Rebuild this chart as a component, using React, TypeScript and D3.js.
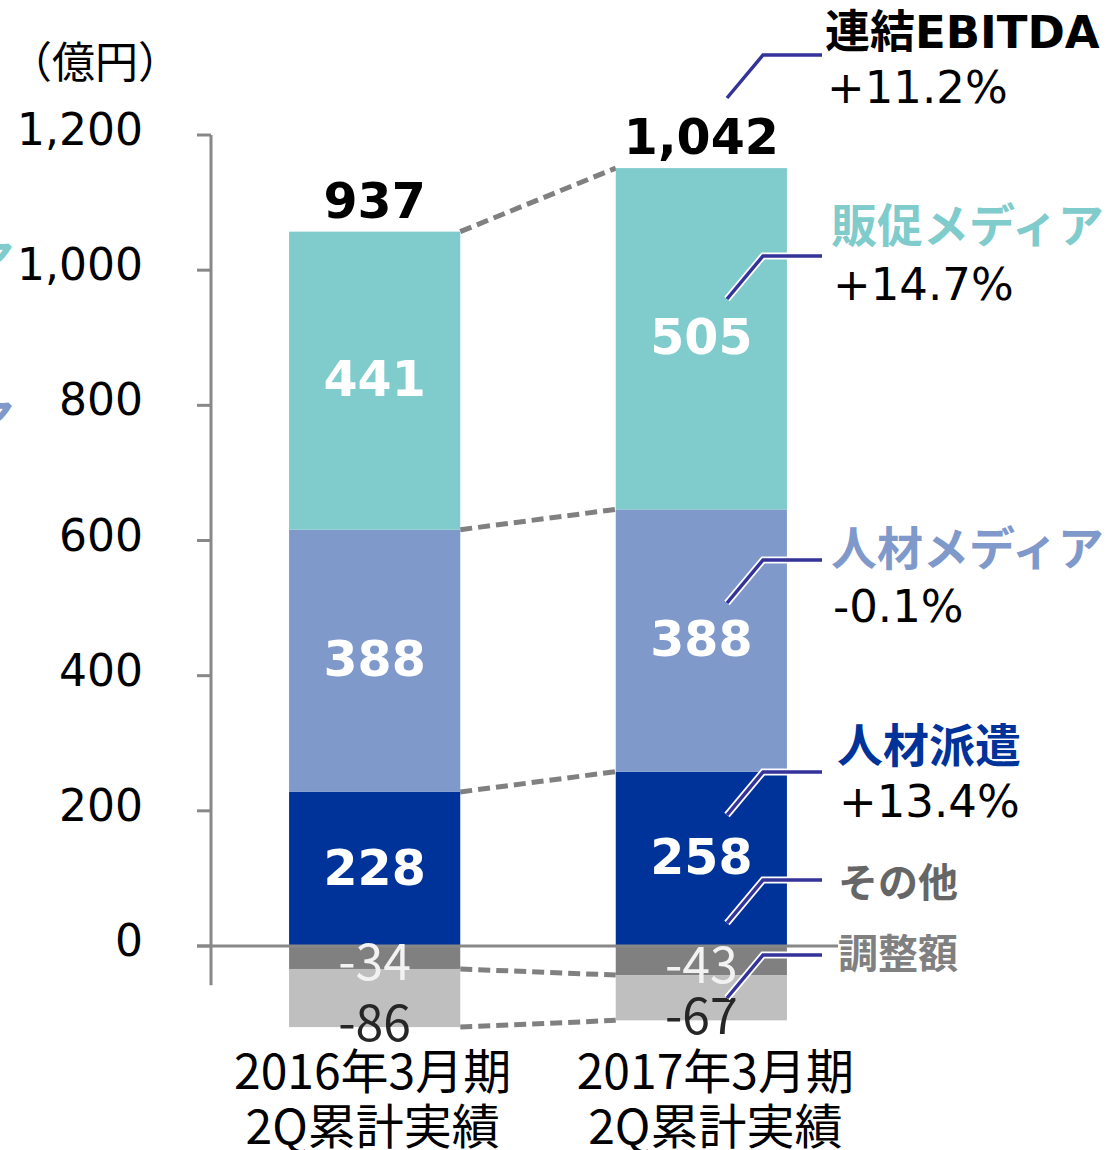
import * as d3 from "d3";

// 期間ラベル
const periodLine1 = ["2016年3月期", "2017年3月期"];
const periodLine2 = ["2Q累計実績", "2Q累計実績"];

// 正のセグメント（下から積み上げ）
const haken = [228, 258];
const jinzaiMedia = [388, 388];
const hansokuMedia = [441, 505];
// 負のセグメント（0 から下へ）
const sonota = [-34, -43];
const chosei = [-86, -67];
const totals = [937, 1042];

const yTicks = [0, 200, 400, 600, 800, 1000, 1200];

// 右側の注記
const calloutNames = ["連結EBITDA", "販促メディア", "人材メディア", "人材派遣", "その他", "調整額"];
const calloutGrowth = ["+11.2%", "+14.7%", "-0.1%", "+13.4%", "", ""];

const COLORS = {
  haken: "#003399",
  jinzai: "#7F99CB",
  hansoku: "#80CBCB",
  sonota: "#808080",
  chosei: "#BFBFBF",
  axis: "#888888",
  callout: "#33339A",
};
const nameColors = ["#000000", COLORS.hansoku, COLORS.jinzai, COLORS.haken, "#666666", "#808080"];
const nameSizes = [45, 46, 46, 46, 40, 40];
// 注記のレイアウト（px）
const lineY = [55, 256, 560, 772, 880, 955];
const nameY = [48, 242, 565, 762, 897, 968];
const growthY = [103, 300, 622, 817, 0, 0];
const nameX = [825, 831, 831, 837, 838, 838];
// 期間ラベルの横ずれ（px）
const periodShift = [-2, 14];

const FONT = "'DejaVu Sans', 'Noto Sans CJK JP', sans-serif";
const CJK = "'Noto Sans CJK JP', 'DejaVu Sans', sans-serif";

const width = 1112;
const height = 1150;

export default function App() {
  const x = d3
    .scaleBand<number>()
    .domain([0, 1])
    .range([211, 865])
    .paddingInner(0.476)
    .paddingOuter(0.239);
  const y = d3.scaleLinear().domain([0, 1200]).range([946, 135]);
  const bw = x.bandwidth();

  const rows = [0, 1].map((i) => {
    const pos = [
      { key: "haken", v: haken[i], color: COLORS.haken },
      { key: "jinzai", v: jinzaiMedia[i], color: COLORS.jinzai },
      { key: "hansoku", v: hansokuMedia[i], color: COLORS.hansoku },
    ];
    let c = 0;
    const posSegs = pos.map((s) => {
      const seg = { ...s, y0: c, y1: c + s.v };
      c += s.v;
      return seg;
    });
    const s0 = { key: "sonota", v: sonota[i], color: COLORS.sonota, y0: 0, y1: sonota[i] };
    const s1 = {
      key: "chosei",
      v: chosei[i],
      color: COLORS.chosei,
      y0: sonota[i],
      y1: sonota[i] + chosei[i],
    };
    return { i, posSegs, negSegs: [s0, s1], top: c };
  });

  // 破線でつなぐ累積値
  const joinLevels = (r: typeof rows[number]) => [
    r.top,
    r.posSegs[1].y1,
    r.posSegs[0].y1,
    r.negSegs[0].y1,
    r.negSegs[1].y1,
  ];
  const l0 = joinLevels(rows[0]);
  const l1 = joinLevels(rows[1]);
  const xr = (x(0) ?? 0) + bw;
  const xl = x(1) ?? 0;

  const fmt = d3.format(",");

  return (
    <svg
      width={width}
      height={height}
      viewBox={`0 0 ${width} ${height}`}
      style={{ position: "absolute", left: 0, top: 0, background: "#fff" }}
    >
      {/* 左端に切れている前スライドのラベル */}
      <text x={14} y={278} textAnchor="end" fontFamily={CJK} fontWeight={700} fontSize={46} fill={COLORS.hansoku}>
        販促メディア
      </text>
      <text x={14} y={437} textAnchor="end" fontFamily={CJK} fontWeight={700} fontSize={46} fill={COLORS.jinzai}>
        人材メディア
      </text>

      {/* 単位 */}
      <text x={95} y={78} textAnchor="middle" fontFamily={CJK} fontSize={43} fill="#000">
        （億円）
      </text>

      {/* y 軸 */}
      <line x1={211} x2={211} y1={y(1200)} y2={y(-58)} stroke={COLORS.axis} strokeWidth={3} />
      {yTicks.map((t) => (
        <g key={t}>
          <line x1={197} x2={211} y1={y(t)} y2={y(t)} stroke={COLORS.axis} strokeWidth={3} />
          <text x={143} y={y(t) + 10} textAnchor="end" fontFamily={FONT} fontSize={44} fill="#000">
            {fmt(t)}
          </text>
        </g>
      ))}

      {/* 破線の接続 */}
      {l0.map((v, k) => (
        <line
          key={k}
          x1={xr}
          y1={y(v)}
          x2={xl}
          y2={y(l1[k])}
          stroke="#808080"
          strokeWidth={5}
          strokeDasharray="12 6"
        />
      ))}

      {/* 棒 */}
      {rows.map((r) => (
        <g key={r.i}>
          {[...r.posSegs, ...r.negSegs].map((s) => (
            <rect
              key={s.key}
              x={x(r.i)}
              width={bw}
              y={y(Math.max(s.y0, s.y1))}
              height={Math.abs(y(s.y0) - y(s.y1))}
              fill={s.color}
            />
          ))}
        </g>
      ))}

      {/* 0 の線 */}
      <line x1={197} x2={838} y1={y(0)} y2={y(0)} stroke={COLORS.axis} strokeWidth={3} />

      {/* 値ラベル */}
      {rows.map((r) => {
        const cx = (x(r.i) ?? 0) + bw / 2;
        return (
          <g key={r.i}>
            {r.posSegs.map((s) => (
              <text
                key={s.key}
                x={cx}
                y={y((s.y0 + s.y1) / 2) - 2}
                dy="0.36em"
                textAnchor="middle"
                fontFamily={FONT}
                fontWeight={700}
                fontSize={49}
                fill="#fff"
              >
                {s.v}
              </text>
            ))}
            <text
              x={cx}
              y={y(r.negSegs[0].y1 / 2) + 4}
              dy="0.37em"
              textAnchor="middle"
              fontFamily={CJK}
              fontSize={50}
              fill="#F2F2F2"
            >
              {r.negSegs[0].v}
            </text>
            <text
              x={cx}
              y={y(r.negSegs[1].y1) - 5}
              dy="0.37em"
              textAnchor="middle"
              fontFamily={CJK}
              fontSize={50}
              fill="#262626"
            >
              {r.negSegs[1].v}
            </text>
            <text
              x={cx}
              y={y(r.top) - 14}
              textAnchor="middle"
              fontFamily={FONT}
              fontWeight={700}
              fontSize={49}
              fill="#000"
            >
              {fmt(totals[r.i])}
            </text>
            <text
              x={cx + periodShift[r.i]}
              y={1089}
              textAnchor="middle"
              fontFamily={CJK}
              fontSize={48}
              fill="#000"
            >
              {periodLine1[r.i]}
            </text>
            <text
              x={cx + periodShift[r.i]}
              y={1144}
              textAnchor="middle"
              fontFamily={CJK}
              fontSize={48}
              fill="#000"
            >
              {periodLine2[r.i]}
            </text>
          </g>
        );
      })}

      {/* 注記 */}
      {calloutNames.map((name, k) => {
        const ly = lineY[k];
        const pts = `727,${ly + 43} 763,${ly} 822,${ly}`;
        return (
          <g key={name}>
            <polyline points={pts} fill="none" stroke="#fff" strokeWidth={7} />
            <polyline points={pts} fill="none" stroke={COLORS.callout} strokeWidth={3.5} />
            <text
              x={nameX[k]}
              y={nameY[k]}
              fontFamily={FONT}
              fontWeight={700}
              fontSize={nameSizes[k]}
              fill={nameColors[k]}
            >
              {name}
            </text>
            {calloutGrowth[k] && (
              <text x={nameX[k] + 2} y={growthY[k]} fontFamily={FONT} fontSize={45} fill="#000">
                {calloutGrowth[k]}
              </text>
            )}
          </g>
        );
      })}
    </svg>
  );
}
